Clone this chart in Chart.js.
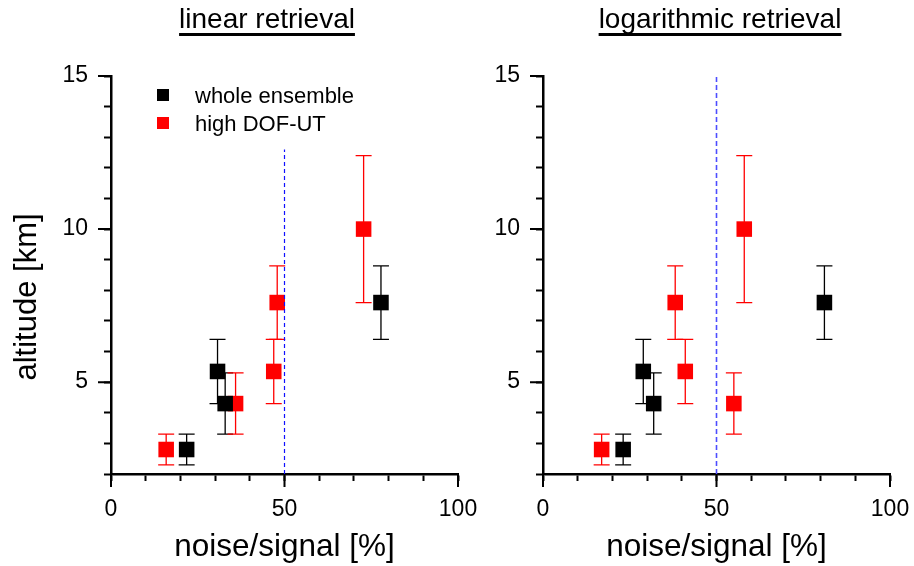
<!DOCTYPE html>
<html>
<head>
<meta charset="utf-8">
<title>noise/signal vs altitude</title>
<script src="https://cdn.jsdelivr.net/npm/chart.js@4.4.0/dist/chart.umd.min.js"></script>
<style>
  body { margin: 0; background: #fff; }
  #wrap { position: relative; width: 914px; height: 566px; }
  canvas { position: absolute; left: 0; top: 0; }
</style>
</head>
<body>
<div id="wrap">
  <canvas id="linChart" width="914" height="566"></canvas>
  <canvas id="logChart" width="914" height="566"></canvas>
</div>
<script>
// altitude of each retrieval layer [km] and the layer limits (error bars)
const altWhole = [2.8, 5.35, 4.3, 7.6];
const altWholeLow = [2.3, 4.3, 3.3, 6.4];
const altWholeHigh = [3.3, 6.4, 5.3, 8.8];

const altHigh = [2.8, 4.3, 5.35, 7.6, 10.0];
const altHighLow = [2.3, 3.3, 4.3, 6.4, 7.6];
const altHighHigh = [3.3, 5.3, 6.4, 8.8, 12.4];

// noise/signal [%]
const linWhole = [21.8, 30.7, 32.9, 77.8];
const linHigh = [15.9, 35.9, 46.9, 47.9, 72.8];
const logWhole = [23.1, 28.9, 31.9, 81.1];
const logHigh = [16.9, 55.0, 41.0, 38.1, 58.0];

// 50% limit (blue dashed line)
const limitX = [50, 50];
const limitLin = [2, 12.6];
const limitLog = [2, 15];

// labelled (long) ticks
const xTicksShown = [0, 50, 100];
const yTicksShown = [5, 10, 15];

const seriesNames = ['whole ensemble', 'high DOF-UT'];
const seriesColors = ['#000000', '#ff0000'];

const FONT = '"Liberation Sans", Arial, sans-serif';
Chart.defaults.font.family = FONT;
Chart.defaults.color = '#000';

function pts(xs, ys) {
  return xs.map((x, i) => ({ x: x, y: ys[i] }));
}

// vertical error bars with caps, drawn under the squares
const errorBars = {
  id: 'errorBars',
  beforeDatasetsDraw(chart) {
    const ctx = chart.ctx;
    const xs = chart.scales.x, ys = chart.scales.y;
    chart.data.datasets.forEach(ds => {
      if (!ds.errLow) return;
      ctx.save();
      ctx.strokeStyle = ds.backgroundColor;
      ctx.lineWidth = 1.3;
      ds.data.forEach((p, i) => {
        const px = xs.getPixelForValue(p.x);
        const y1 = ys.getPixelForValue(ds.errLow[i]);
        const y2 = ys.getPixelForValue(ds.errHigh[i]);
        ctx.beginPath();
        ctx.moveTo(px, y1); ctx.lineTo(px, y2);
        ctx.moveTo(px - 8, y1); ctx.lineTo(px + 8, y1);
        ctx.moveTo(px - 8, y2); ctx.lineTo(px + 8, y2);
        ctx.stroke();
      });
      ctx.restore();
    });
  }
};

// longer tick marks at the labelled values
const majorTicks = {
  id: 'majorTicks',
  afterDraw(chart) {
    const ctx = chart.ctx, a = chart.chartArea;
    ctx.save();
    ctx.strokeStyle = '#000';
    ctx.lineWidth = 2;
    ctx.beginPath();
    xTicksShown.forEach(v => {
      const px = chart.scales.x.getPixelForValue(v);
      ctx.moveTo(px, a.bottom); ctx.lineTo(px, a.bottom + 13);
    });
    yTicksShown.forEach(v => {
      const py = chart.scales.y.getPixelForValue(v);
      ctx.moveTo(a.left - 13, py); ctx.lineTo(a.left, py);
    });
    ctx.stroke();
    ctx.restore();
  }
};

// underlined panel title, y title and legend
const panelText = {
  id: 'panelText',
  afterDraw(chart, args, opts) {
    const ctx = chart.ctx;
    ctx.save();
    ctx.fillStyle = '#000';
    ctx.font = '28px ' + FONT;
    ctx.textAlign = 'center';
    ctx.textBaseline = 'alphabetic';
    ctx.fillText(opts.title, opts.titleX, 28);
    const w = ctx.measureText(opts.title).width;
    ctx.fillRect(opts.titleX - w / 2, 33, w, 3);

    if (opts.yTitle) {
      ctx.save();
      ctx.translate(36, 297);
      ctx.rotate(-Math.PI / 2);
      ctx.font = '31px ' + FONT;
      ctx.fillText(opts.yTitle, 0, 0);
      ctx.restore();
    }

    if (opts.legend) {
      ctx.font = '22px ' + FONT;
      ctx.textAlign = 'left';
      seriesNames.forEach((name, i) => {
        ctx.fillStyle = seriesColors[i];
        ctx.fillRect(157, 89 + i * 28, 12, 12);
        ctx.fillStyle = '#000';
        ctx.fillText(name, 195, 103 + i * 28);
      });
    }
    ctx.restore();
  }
};

function scalesFor(yWidth) {
  return {
    x: {
      type: 'linear', min: 0, max: 100,
      border: { display: true, color: '#000', width: 2.5 },
      grid: { display: true, drawOnChartArea: false, drawTicks: true, tickLength: 7, tickWidth: 2, tickColor: '#000' },
      ticks: {
        stepSize: 10, autoSkip: false, maxRotation: 0, padding: 15,
        font: { size: 23 }, color: '#000',
        callback: v => xTicksShown.includes(v) ? v : ''
      },
      title: { display: true, text: 'noise/signal [%]', font: { size: 31.5 }, color: '#000', padding: 0 },
      afterFit: s => { s.height = 92; s.paddingLeft = 0; s.paddingRight = 0; }
    },
    y: {
      type: 'linear', min: 2, max: 15,
      border: { display: true, color: '#000', width: 2.5 },
      grid: { display: true, drawOnChartArea: false, drawTicks: true, tickLength: 7, tickWidth: 2, tickColor: '#000' },
      ticks: {
        stepSize: 1, autoSkip: false, padding: 16,
        font: { size: 23 }, color: '#000',
        callback: v => yTicksShown.includes(v) ? v : ''
      },
      afterFit: s => { s.width = yWidth; s.paddingTop = 0; s.paddingBottom = 0; }
    }
  };
}

function makeChart(id, whole, high, limitY, padding, yWidth, panel) {
  return new Chart(document.getElementById(id), {
    type: 'scatter',
    data: {
      datasets: [
        {
          type: 'line', data: pts(limitX, limitY),
          borderColor: panel.limitColor, borderWidth: panel.limitWidth, borderDash: panel.dash,
          pointRadius: 0, fill: false
        },
        {
          label: seriesNames[0], data: pts(whole, altWhole),
          errLow: altWholeLow, errHigh: altWholeHigh,
          backgroundColor: seriesColors[0], borderColor: seriesColors[0], borderWidth: 0,
          pointStyle: 'rect', pointRadius: 11
        },
        {
          label: seriesNames[1], data: pts(high, altHigh),
          errLow: altHighLow, errHigh: altHighHigh,
          backgroundColor: seriesColors[1], borderColor: seriesColors[1], borderWidth: 0,
          pointStyle: 'rect', pointRadius: 11
        }
      ]
    },
    options: {
      responsive: false,
      animation: false,
      events: [],
      layout: { padding: padding },
      scales: scalesFor(yWidth),
      plugins: {
        legend: { display: false },
        tooltip: { enabled: false },
        panelText: panel
      }
    },
    plugins: [errorBars, majorTicks, panelText]
  });
}

makeChart('linChart', linWhole, linHigh, limitLin,
  { left: 0, top: 76, right: 456, bottom: 0 }, 111,
  { title: 'linear retrieval', titleX: 267, yTitle: 'altitude [km]', legend: true,
    limitColor: '#1010ff', limitWidth: 1.2, dash: [4, 3] });

makeChart('logChart', logWhole, logHigh, limitLog,
  { left: 480, top: 76, right: 24, bottom: 0 }, 63,
  { title: 'logarithmic retrieval', titleX: 720, yTitle: null, legend: false,
    limitColor: '#4d4dff', limitWidth: 1.6, dash: [5, 3] });
</script>
</body>
</html>
